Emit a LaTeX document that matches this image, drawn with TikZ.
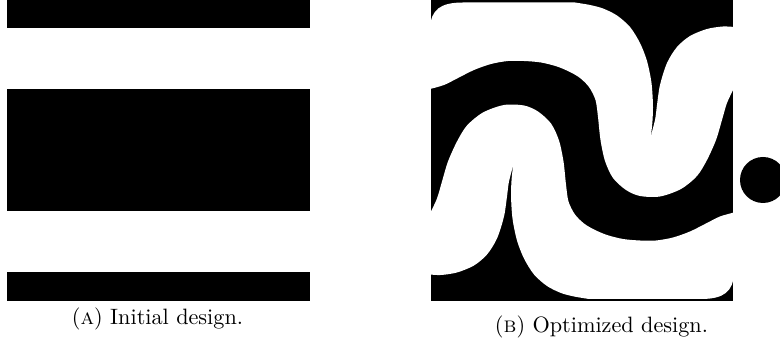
\documentclass[tikz,border=0pt]{standalone}
\begin{document}
\newcommand{\optwhitepath}{%
  (430,89) -- (430,28) .. controls (431,10) and (440,2.5) .. (463,2.5) -- (575,2.5)
  -- plot[smooth] coordinates {(575,2.5) (590,5) (603,8.5) (617,15.5) (630,27) (640,43) (647,61) (651.5,83) (653,107) (652,127) (650,139)}
  -- plot[smooth] coordinates {(650,139) (655,120) (657,105) (660,85) (667,63) (677,47) (690,36) (707,29) (723,26.5) (734,27)}
  -- (734,88)
  -- plot[smooth] coordinates {(734,88) (727,103) (722,120) (716,140) (707,160) (697,176) (681,189) (660,196.5) (640,196) (626,190) (613,178) (605,161) (600.5,140) (598,117) (595.5,100) (589,87) (580,78) (570,72) (557,66.5) (541,62.5) (524,61) (508,61) (491,64) (474,70) (458,78) (444,85) (430,89)}
  -- cycle}
\begin{tikzpicture}[x=0.45pt,y=-0.45pt,
  capstyle/.style={anchor=base,inner sep=0pt,font=\normalsize}]
\useasboundingbox (0,0) rectangle (780,348);
\clip (0,0) rectangle (780,348);
% (A) initial design
\fill[black] (7,0) rectangle (310,301.5);
\fill[white] (7,28.3) rectangle (310,89.3);
\fill[white] (7,211) rectangle (310,272);
% (B) optimized design
\fill[black] (431,0) rectangle (733,301.5);
\begin{scope}
  \clip (431,0) rectangle (733,301.5);
  \fill[white] \optwhitepath;
  \begin{scope}[rotate around={180:(582,150.75)}]
    \fill[white] \optwhitepath;
  \end{scope}
\end{scope}
% dot
\fill[black] (763,180) circle[radius=23];
% captions
\node[capstyle] (capA) at (157.5,325) {(\textsc{a}) Initial design.};
\node[capstyle] (capB) at (601.5,333) {(\textsc{b}) Optimized design.};
\end{tikzpicture}
\end{document}
